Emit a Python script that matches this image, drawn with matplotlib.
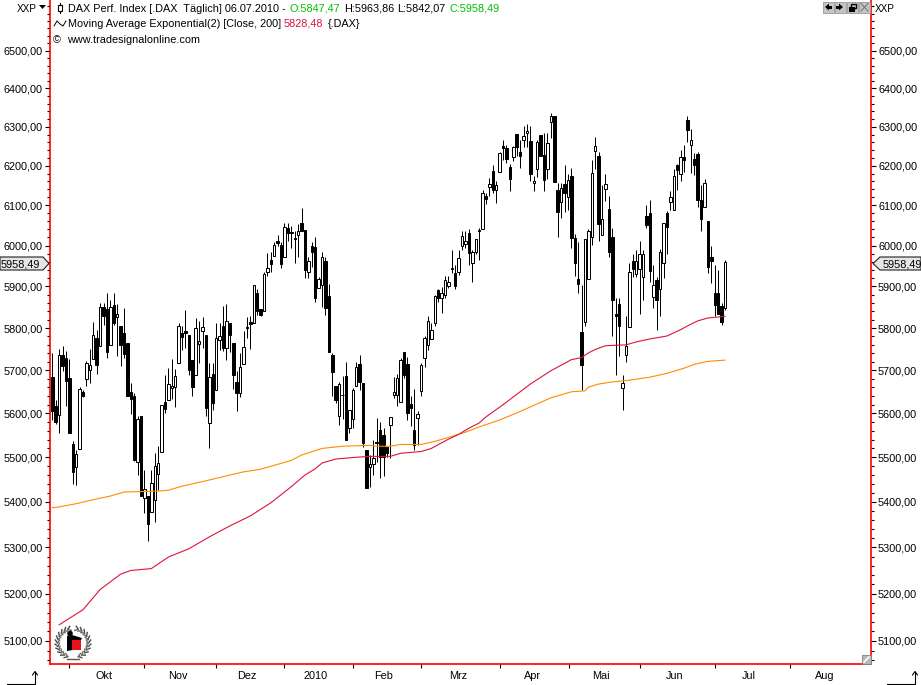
import math
import matplotlib
matplotlib.use('Agg')
import matplotlib.pyplot as plt
from matplotlib.patches import Polygon, Rectangle, Circle

# OHLC per trading day (index 0 = first bar, last = 06.07.2010)
opens = [5685, 5616, 5596, 5736, 5729, 5682, 5531, 5477, 5519, 5650,
         5680, 5700, 5726, 5776, 5757, 5851, 5846, 5759, 5855, 5826,
         5804, 5788, 5764, 5650, 5641, 5490, 5595, 5408, 5413, 5378,
         5405, 5463, 5512, 5627, 5632, 5658, 5660, 5717, 5788, 5794,
         5784, 5725, 5688, 5762, 5792, 5784, 5579, 5692, 5653, 5771,
         5806, 5753, 5812, 5764, 5673, 5647, 5715, 5801, 5815, 5811,
         5884, 5846, 5840, 5936, 5964, 5975, 6011, 6001, 5973, 6044,
         6033, 6018, 6025, 6056, 6038, 5934, 5998, 5996, 5895, 5903,
         5962, 5876, 5737, 5664, 5593, 5643, 5686, 5566, 5587, 5664,
         5715, 5671, 5516, 5477, 5484, 5535, 5562, 5550, 5524, 5573,
         5642, 5643, 5626, 5743, 5715, 5622, 5562, 5589, 5651, 5728,
         5759, 5774, 5813, 5891, 5871, 5880, 5900, 5945, 5932, 5935,
         5998, 6003, 6031, 5958, 5985, 6039, 6042, 6123, 6147, 6186,
         6138, 6185, 6250, 6245, 6197, 6223, 6281, 6235, 6265, 6283,
         6263, 6155, 6191, 6279, 6228, 6191, 6312, 6329, 6139, 6108,
         6154, 6120, 6174, 6018, 5918, 5791, 5814, 5918, 6022, 6238,
         6226, 6027, 6140, 6091, 6021, 5834, 5857, 5659, 5735, 5802,
         5961, 5930, 5942, 5922, 6073, 6080, 5874, 5915, 5893, 5957,
         6080, 6109, 6087, 6202, 6179, 6222, 6318, 6253, 6217, 6231,
         6113, 6095, 6061, 5972, 5884, 5884, 5853, 5847.47]
highs = [5741, 5630, 5750, 5757, 5745, 5727, 5537, 5516, 5661, 5655,
         5722, 5751, 5815, 5796, 5861, 5861, 5883, 5867, 5885, 5858,
         5804, 5847, 5764, 5670, 5648, 5593, 5595, 5472, 5413, 5471,
         5510, 5526, 5619, 5690, 5705, 5727, 5702, 5813, 5804, 5843,
         5784, 5725, 5824, 5816, 5826, 5784, 5717, 5717, 5812, 5812,
         5853, 5858, 5812, 5764, 5698, 5741, 5794, 5826, 5828, 5903,
         5893, 5846, 5934, 5981, 5985, 6008, 6027, 6008, 6056, 6056,
         6048, 6035, 6054, 6093, 6038, 5973, 6008, 6022, 5922, 5985,
         5973, 5907, 5741, 5664, 5672, 5687, 5719, 5608, 5658, 5720,
         5735, 5671, 5516, 5504, 5539, 5589, 5580, 5566, 5524, 5592,
         5684, 5692, 5730, 5743, 5732, 5641, 5656, 5606, 5717, 5780,
         5829, 5812, 5879, 5893, 5899, 5925, 5925, 5990, 5951, 5989,
         6036, 6035, 6041, 5988, 6017, 6043, 6139, 6130, 6170, 6202,
         6162, 6236, 6267, 6252, 6204, 6250, 6281, 6266, 6301, 6307,
         6301, 6175, 6266, 6279, 6283, 6283, 6336, 6329, 6156, 6156,
         6203, 6178, 6193, 6028, 6008, 5903, 6016, 6040, 6215, 6274,
         6234, 6150, 6180, 6124, 6043, 5872, 5872, 5688, 5829, 5956,
         5979, 5990, 6011, 5990, 6101, 6113, 5952, 5922, 5992, 6056,
         6085, 6136, 6192, 6204, 6241, 6254, 6328, 6295, 6232, 6234,
         6150, 6166, 6061, 5999, 5952, 5940, 5860, 5963.86]
lows = [5585, 5575, 5555, 5698, 5616, 5555, 5440, 5437, 5519, 5637,
        5664, 5671, 5726, 5692, 5757, 5808, 5729, 5759, 5808, 5734,
        5711, 5729, 5640, 5598, 5492, 5460, 5413, 5375, 5313, 5378,
        5356, 5426, 5512, 5601, 5632, 5634, 5614, 5717, 5749, 5753,
        5689, 5640, 5688, 5717, 5753, 5595, 5520, 5607, 5653, 5747,
        5745, 5724, 5743, 5657, 5605, 5637, 5715, 5777, 5751, 5811,
        5832, 5828, 5840, 5926, 5934, 5975, 5998, 5944, 5973, 6010,
        5995, 5958, 5971, 6037, 5921, 5921, 5948, 5863, 5895, 5850,
        5830, 5743, 5640, 5623, 5574, 5588, 5540, 5554, 5566, 5664,
        5655, 5524, 5432, 5433, 5460, 5489, 5454, 5458, 5501, 5498,
        5635, 5616, 5626, 5682, 5584, 5572, 5516, 5528, 5640, 5709,
        5749, 5774, 5806, 5863, 5837, 5872, 5895, 5932, 5894, 5928,
        5988, 5993, 5952, 5910, 5978, 5964, 6042, 6103, 6124, 6132,
        6105, 6183, 6214, 6207, 6135, 6213, 6225, 6195, 6247, 6247,
        6161, 6137, 6171, 6226, 6137, 6167, 6270, 6158, 6022, 6068,
        6082, 6087, 5993, 5926, 5883, 5655, 5804, 5918, 6002, 6192,
        6012, 6027, 6111, 5971, 5781, 5688, 5734, 5607, 5719, 5802,
        5924, 5924, 5833, 5867, 6044, 5910, 5849, 5796, 5829, 5921,
        5980, 6088, 6087, 6139, 6162, 6185, 6260, 6181, 6176, 6095,
        6037, 6095, 5933, 5909, 5828, 5833, 5808, 5842.07]
closes = [5605, 5580, 5736, 5711, 5674, 5555, 5467, 5508, 5656, 5640,
          5717, 5712, 5783, 5713, 5851, 5829, 5742, 5851, 5812, 5833,
          5760, 5739, 5640, 5634, 5493, 5588, 5413, 5429, 5351, 5443,
          5481, 5488, 5619, 5611, 5667, 5663, 5687, 5805, 5778, 5788,
          5700, 5662, 5800, 5769, 5802, 5613, 5685, 5625, 5776, 5782,
          5753, 5817, 5783, 5688, 5647, 5708, 5755, 5802, 5809, 5903,
          5841, 5830, 5929, 5944, 5955, 6001, 6006, 5955, 6046, 6031,
          6031, 6015, 6035, 6037, 5941, 5961, 5985, 5873, 5918, 5973,
          5849, 5744, 5695, 5631, 5668, 5642, 5540, 5608, 5654, 5709,
          5672, 5533, 5432, 5484, 5498, 5533, 5501, 5501, 5510, 5592,
          5650, 5681, 5724, 5688, 5602, 5613, 5528, 5598, 5713, 5776,
          5816, 5795, 5877, 5873, 5883, 5915, 5910, 5942, 5902, 5969,
          6024, 6011, 5981, 5985, 6017, 6035, 6130, 6117, 6153, 6139,
          6151, 6232, 6245, 6217, 6167, 6247, 6247, 6226, 6277, 6289,
          6179, 6161, 6260, 6226, 6164, 6258, 6329, 6158, 6082, 6143,
          6132, 6163, 6018, 5956, 5906, 5713, 6016, 6035, 6181, 6251,
          6054, 6066, 6154, 5984, 5866, 5828, 5804, 5670, 5758, 5934,
          5943, 5961, 5978, 5978, 6051, 5937, 5903, 5866, 5984, 6056,
          6045, 6121, 6174, 6188, 6222, 6214, 6291, 6265, 6201, 6113,
          6067, 6156, 5948, 5963, 5856, 5833, 5814, 5958.49]

# moving averages, read at a number of bars
ema_red_x = [2, 9, 14, 20, 23, 29, 34, 40, 46, 52, 58, 64, 70, 74, 77, 79, 83, 89, 93,
             99, 102, 108, 111, 116, 119, 122, 125, 127, 132, 136, 140, 146, 152, 155,
             157, 159, 162, 168, 171, 175, 180, 184, 186, 189, 192, 197]
ema_red = [5134, 5166, 5209, 5242, 5250, 5254, 5279, 5297, 5323, 5347, 5369, 5398, 5434,
           5460, 5474, 5487, 5496, 5500, 5502, 5502, 5509, 5513, 5520, 5541, 5552, 5566,
           5578, 5592, 5620, 5644, 5668, 5699, 5725, 5730, 5741, 5749, 5758, 5760, 5767,
           5774, 5781, 5796, 5805, 5817, 5824, 5828]
ema_orange_x = [0, 2, 7, 12, 17, 21, 31, 34, 38, 45, 52, 56, 61, 66, 70, 73, 79, 85, 93,
                95, 99, 102, 108, 112, 116, 121, 125, 131, 136, 140, 146, 152, 156, 157,
                160, 164, 169, 175, 180, 185, 188, 192, 197]
ema_orange = [5387, 5389, 5396, 5405, 5413, 5422, 5424, 5426, 5435, 5447, 5460, 5467, 5473,
              5484, 5493, 5505, 5520, 5525, 5527, 5525, 5525, 5529, 5529, 5536, 5545, 5557,
              5569, 5585, 5601, 5615, 5636, 5650, 5652, 5661, 5668, 5673, 5677, 5684, 5693,
              5705, 5714, 5721, 5724]

price_ticks = list(range(5100, 6600, 100))
price_minor = list(range(5060, 6640, 20))
month_ticks = [4.9, 26.9, 47.9, 68, 88.2, 108, 131.2, 151.2, 172.1, 194, 216]
month_label_pos = [15.1, 36.8, 57, 77.2, 97.1, 118.8, 140.5, 160.7, 182.3, 204, 226.2]
month_labels = ['Okt', 'Nov', 'Dez', '2010', 'Feb', 'Mrz', 'Apr', 'Mai', 'Jun', 'Jul', 'Aug']

plt.rcParams['font.family'] = ['Liberation Sans', 'DejaVu Sans']
FS = 7.85
RED = '#ff0000'

fig = plt.figure(figsize=(9.21, 6.85), dpi=100)
ax = fig.add_axes([50 / 921, 21 / 685, 821 / 921, 664 / 685])
ax.set_yscale('log')
ax.set_xlim(-0.67, 239.75)
ax.set_ylim(5052, 6637)

for i in range(len(opens)):
    down = closes[i] < opens[i]
    ax.vlines(i, lows[i], highs[i], color='black', lw=0.72, zorder=2)
    top, bottom = max(opens[i], closes[i]), min(opens[i], closes[i])
    ax.bar(i, top - bottom, bottom=bottom, width=0.72, facecolor='black' if down else 'white',
           edgecolor='black', lw=0.72, zorder=3)

ax.plot(ema_orange_x, ema_orange, color='#ff8c00', lw=0.8, zorder=4)
ax.plot(ema_red_x, ema_red, color='#dc143c', lw=0.8, zorder=5)

for side in ['left', 'right', 'bottom']:
    ax.spines[side].set_color(RED)
    ax.spines[side].set_linewidth(1.2)
ax.spines['top'].set_visible(False)

ax.set_yticks(price_ticks, ['%d,00' % p for p in price_ticks])
ax.set_yticks(price_minor, [''] * len(price_minor), minor=True)
ax.tick_params(axis='y', which='major', left=True, right=True, labelleft=True, labelright=True,
               length=3.4, width=0.8, pad=1.7, labelsize=FS)
ax.tick_params(axis='y', which='minor', left=True, right=True, length=2, width=0.8)
ax.set_xticks(month_ticks, [''] * len(month_ticks))
ax.tick_params(axis='x', length=3, width=0.8, pad=0)
for pos, lab in zip(month_label_pos, month_labels):
    ax.annotate(lab, (pos, 0), xycoords=('data', 'axes fraction'), xytext=(0, -5.2),
                textcoords='offset points', ha='center', va='top', fontsize=FS)

# pixel overlay for the header text and the platform's small widgets
ov = fig.add_axes([0, 0, 1, 1], zorder=10)
ov.set_xlim(0, 921)
ov.set_ylim(685, 0)
ov.axis('off')
ov.patch.set_alpha(0)


def label(x, y, s, color='black', **kw):
    ov.text(x, y, s, color=color, fontsize=kw.pop('size', FS), va='center', ha='left', **kw)


GREEN = '#00c000'
label(68, 8.7, 'DAX Perf. Index [.DAX  Täglich] 06.07.2010 -')
label(289, 8.7, 'O:5847,47', GREEN)
label(344, 8.7, 'H:5963,86')
label(397, 8.7, 'L:5842,07')
label(449, 8.7, 'C:5958,49', GREEN)
label(68, 23.7, 'Moving Average Exponential(2) [Close, 200]')
label(284, 23.7, '5828,48', '#dc143c')
label(328, 23.7, '{.DAX}')
label(53, 39.7, '©')
label(67, 39.7, 'www.tradesignalonline.com')
label(17, 8.7, 'XXP', size=7.2)
label(875, 8.7, 'XXP', size=7.2)
ov.add_patch(Polygon([[39, 5], [46, 5], [42.5, 9]], color='black', lw=0))

# small candle + wave glyphs in the legend
ov.plot([60, 60], [3, 13], color='black', lw=0.8)
ov.add_patch(Rectangle((58, 5), 4, 6, fc='white', ec='black', lw=0.8, zorder=3))
ov.plot([54, 57, 60, 63, 66], [26, 21, 24, 26, 21], color='black', lw=0.7)

# last price tags
ov.add_patch(Polygon([[0, 257], [43, 257], [49, 263.5], [43, 270], [0, 270]],
                     fc='#e6e6e6', ec='#202020', lw=0.8))
label(1, 264, '5958,49')
ov.add_patch(Polygon([[921, 257], [880, 257], [873, 263.5], [880, 270], [921, 270]],
                     fc='#e6e6e6', ec='#202020', lw=0.8))
label(883, 264, '5958,49')

# window buttons top right
for bx in [823, 835, 847, 859]:
    ov.add_patch(Rectangle((bx, 2), 10.5, 10.5, fc='#c4c4c4', ec='#9a9a9a', lw=0.6))
ov.add_patch(Polygon([[825, 7], [829, 3.5], [829, 10.5]], color='black', lw=0))
ov.add_patch(Rectangle((829, 5.5), 3, 3, color='black', lw=0))
ov.add_patch(Polygon([[843, 7], [839, 3.5], [839, 10.5]], color='black', lw=0))
ov.add_patch(Rectangle((836, 5.5), 3, 3, color='black', lw=0))
ov.add_patch(Rectangle((851, 4), 5, 4, fc='none', ec='black', lw=1))
ov.add_patch(Rectangle((849, 7), 5, 4, fc='black', ec='black', lw=0.8))
ov.plot([861, 868], [3.5, 11], color='#707070', lw=0.7)
ov.plot([868, 861], [3.5, 11], color='#707070', lw=0.7)

# resize corner
ov.add_patch(Rectangle((862, 655), 8.5, 8.5, fc='#b8b8b8', ec='#808080', lw=0.6))
ov.plot([864, 869], [662, 657], color='white', lw=1.2)

# axis corner arrows
for x0, x1 in [(7, 35), (887, 915)]:
    ov.plot([x0, x1, x1], [684, 684, 672], color='black', lw=0.8)
    ov.plot([x1 - 2.5, x1, x1 + 2.5], [675, 671.5, 675], color='black', lw=0.8)

# wreath logo: leaf pairs along two arcs
for sign in [-1, 1]:
    for deg in range(-70, 75, 14):
        a = math.radians(deg)
        cx = 73 + sign * 15.5 * math.cos(a)
        cy = 643 - 14.5 * math.sin(a)
        # tangent pointing up the arc, and the outward direction
        tx, ty = sign * -math.sin(a), -math.cos(a)
        nx, ny = sign * math.cos(a), -math.sin(a)
        ov.plot([cx, cx + 3 * tx + 2.2 * nx], [cy, cy + 3 * ty + 2.2 * ny], color='#4a4a4a', lw=1.0)
        ov.plot([cx, cx + 3 * tx - 2.2 * nx], [cy, cy + 3 * ty - 2.2 * ny], color='#6a6a6a', lw=1.0)
ov.plot([67, 79], [658.5, 658.5], color='#555555', lw=1.0)
ov.add_patch(Circle((70, 633.5), 2.8, color='black', lw=0))
ov.add_patch(Polygon([[67, 636], [72, 635], [82, 638], [81, 640], [73, 640], [73, 650], [67, 651]],
                     color='black', lw=0))
ov.add_patch(Rectangle((71.5, 640), 9.5, 9.5, color='#e8101c', lw=0))

fig.savefig('out.png', dpi=100)
